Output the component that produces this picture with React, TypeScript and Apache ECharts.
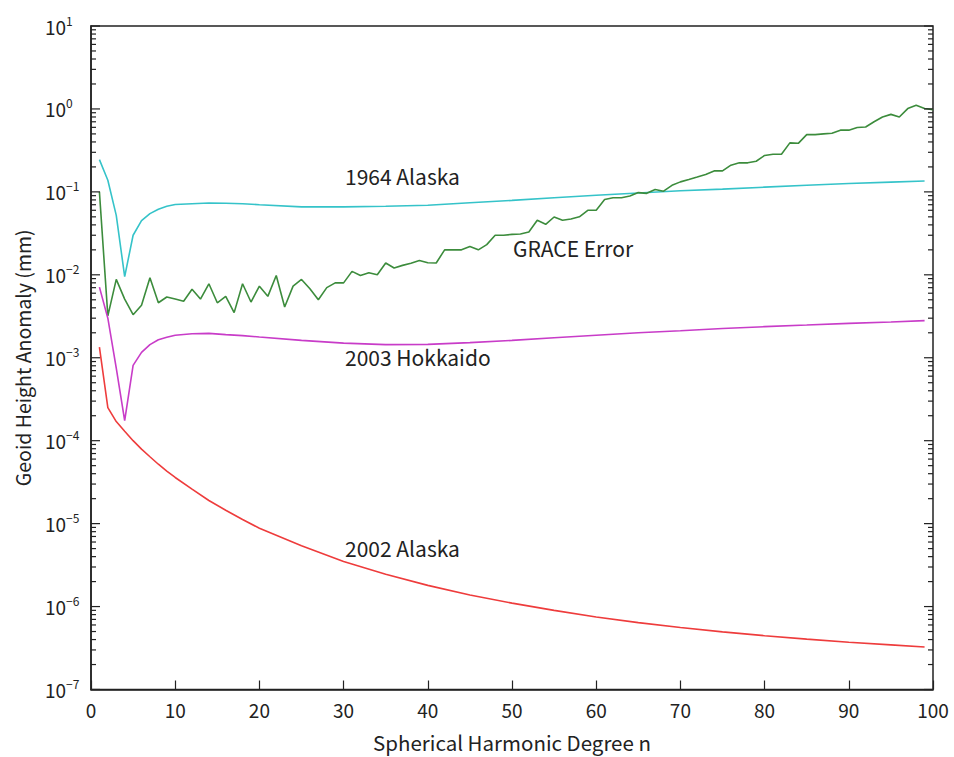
import React, { useEffect, useRef } from "react";
import * as echarts from "echarts";

// Spherical harmonic degree samples for the three model curves
const degrees = [1, 2, 3, 4, 5, 6, 7, 8, 9, 10, 12, 14, 16, 18, 20, 25, 30, 35, 40, 45, 50, 55, 60, 65, 70, 75, 80, 85, 90, 95, 99];

const alaska1964 = [0.245, 0.138, 0.052, 0.0095, 0.030, 0.045, 0.0547, 0.0617, 0.067, 0.0703, 0.072, 0.0735, 0.073, 0.072, 0.070, 0.066, 0.066, 0.067, 0.069, 0.074, 0.079, 0.085, 0.091, 0.097, 0.103, 0.108, 0.114, 0.12, 0.126, 0.131, 0.135];

const hokkaido2003 = [0.0071, 0.0030, 0.00075, 0.000175, 0.00081, 0.00116, 0.00144, 0.00165, 0.00177, 0.00187, 0.00195, 0.00197, 0.0019, 0.00185, 0.00178, 0.00162, 0.0015, 0.00144, 0.00145, 0.00152, 0.00162, 0.00174, 0.00187, 0.002, 0.00212, 0.00225, 0.00237, 0.00248, 0.0026, 0.0027, 0.0028];

const alaska2002 = [1.34e-3, 2.5e-4, 1.7e-4, 1.3e-4, 1.0e-4, 7.9e-5, 6.4e-5, 5.2e-5, 4.3e-5, 3.6e-5, 2.6e-5, 1.9e-5, 1.45e-5, 1.12e-5, 8.8e-6, 5.4e-6, 3.5e-6, 2.45e-6, 1.8e-6, 1.38e-6, 1.1e-6, 9.0e-7, 7.5e-7, 6.4e-7, 5.6e-7, 4.95e-7, 4.45e-7, 4.05e-7, 3.72e-7, 3.45e-7, 3.25e-7];

// GRACE error, degree n = 1 .. 100
const graceError = [
  0.10, 0.0032, 0.0088, 0.0051, 0.0033, 0.0043, 0.0092, 0.0046, 0.0054, 0.0051,
  0.0048, 0.0067, 0.0051, 0.0078, 0.0046, 0.0055, 0.0035, 0.0078, 0.0047, 0.0073,
  0.0055, 0.0098, 0.0041, 0.0073, 0.0088, 0.0068, 0.0050, 0.0070, 0.0080, 0.0080,
  0.011, 0.0098, 0.0106, 0.0100, 0.0139, 0.0121, 0.0130, 0.0138, 0.0149, 0.0140,
  0.0139, 0.020, 0.020, 0.020, 0.0219, 0.020, 0.0231, 0.030, 0.030, 0.0307,
  0.031, 0.0328, 0.0454, 0.0406, 0.0498, 0.0454, 0.047, 0.050, 0.060, 0.060,
  0.081, 0.085, 0.085, 0.089, 0.098, 0.096, 0.107, 0.102, 0.12, 0.132,
  0.141, 0.151, 0.162, 0.179, 0.179, 0.21, 0.224, 0.224, 0.234, 0.275,
  0.284, 0.284, 0.39, 0.385, 0.49, 0.49, 0.50, 0.51, 0.555, 0.555,
  0.598, 0.605, 0.70, 0.80, 0.86, 0.80, 1.01, 1.11, 1.01, 0.98,
];

const xTickLabels = ["0", "10", "20", "30", "40", "50", "60", "70", "80", "90", "100"];
const decadeExponents = [-7, -6, -5, -4, -3, -2, -1, 0, 1];

const FONT = '"Noto Sans CJK JP", "Noto Sans", sans-serif';
const INK = "#222";

export default function App() {
  const ref = useRef<HTMLDivElement>(null);

  useEffect(() => {
    if (!ref.current) return;
    const chart = echarts.init(ref.current, undefined, { renderer: "svg" });

    // log-axis tick marks (majors at decades, minors at 2..9 x decade)
    const tickData: number[][] = [];
    decadeExponents.forEach((e) => {
      tickData.push([0, Math.pow(10, e), 1]);
      if (e < 1) for (let m = 2; m <= 9; m++) tickData.push([0, m * Math.pow(10, e), 0]);
    });

    const pairs = (xs: number[], ys: number[]) => xs.map((x, i) => [x, ys[i]]);

    const option: any = {
      animation: false,
      backgroundColor: "#fff",
      grid: {
        left: 91,
        right: 21,
        top: 26,
        bottom: 67,
        show: true,
        borderColor: INK,
        borderWidth: 1.5,
        backgroundColor: "transparent",
      },
      xAxis: {
        type: "value",
        min: 0,
        max: 100,
        interval: 10,
        name: "Spherical Harmonic Degree n",
        nameLocation: "middle",
        nameGap: 42,
        nameTextStyle: { fontFamily: FONT, fontSize: 20.5, color: INK },
        axisLine: { show: true, lineStyle: { color: INK, width: 1.5 } },
        axisTick: { show: true, inside: true, length: 9, lineStyle: { color: INK, width: 1.2 } },
        axisLabel: {
          fontFamily: FONT,
          fontSize: 19,
          color: INK,
          margin: 10,
          formatter: (v: number) => xTickLabels[Math.round(v / 10)] ?? String(v),
        },
        splitLine: { show: false },
      },
      yAxis: {
        type: "log",
        logBase: 10,
        min: 1e-7,
        max: 10,
        name: "Geoid Height Anomaly (mm)",
        nameLocation: "middle",
        nameGap: 59,
        nameTextStyle: { fontFamily: FONT, fontSize: 19.5, color: INK },
        axisLine: { show: true, lineStyle: { color: INK, width: 1.5 } },
        axisTick: { show: false },
        minorTick: { show: false },
        splitLine: { show: false },
        axisLabel: {
          showMinLabel: true,
          showMaxLabel: true,
          align: "left",
          margin: 46,
          formatter: (v: number) => {
            const e = Math.round(Math.log10(v));
            const s = e < 0 ? "\u2212" + -e : String(e);
            return "{b|10}{s|" + s + "}";
          },
          rich: {
            b: { fontFamily: FONT, fontSize: 19, color: INK, lineHeight: 24 },
            s: { fontFamily: FONT, fontSize: 12, color: INK, lineHeight: 13, verticalAlign: "top" },
          },
        },
      },
      series: [
        {
          type: "line",
          name: "1964 Alaska",
          data: pairs(degrees, alaska1964),
          showSymbol: false,
          lineStyle: { color: "#35C3C9", width: 1.6 },
          itemStyle: { color: "#35C3C9" },
        },
        {
          type: "line",
          name: "GRACE Error",
          data: graceError.map((v, i) => [i + 1, v]),
          showSymbol: false,
          lineStyle: { color: "#3C8C3C", width: 1.6 },
          itemStyle: { color: "#3C8C3C" },
        },
        {
          type: "line",
          name: "2003 Hokkaido",
          data: pairs(degrees, hokkaido2003),
          showSymbol: false,
          lineStyle: { color: "#C83CC8", width: 1.6 },
          itemStyle: { color: "#C83CC8" },
        },
        {
          type: "line",
          name: "2002 Alaska",
          data: pairs(degrees, alaska2002),
          showSymbol: false,
          lineStyle: { color: "#EE3C3C", width: 1.6 },
          itemStyle: { color: "#EE3C3C" },
        },
        {
          type: "custom",
          silent: true,
          z: 5,
          data: tickData,
          renderItem: (_params: any, api: any) => {
            const v = api.value(1);
            const major = api.value(2) === 1;
            const l = api.coord([0, v]);
            const r = api.coord([100, v]);
            const len = major ? 9 : 5;
            const st = { stroke: INK, lineWidth: 1.2 };
            return {
              type: "group",
              children: [
                { type: "line", shape: { x1: l[0], y1: l[1], x2: l[0] + len, y2: l[1] }, style: st },
                { type: "line", shape: { x1: r[0] - len, y1: r[1], x2: r[0], y2: r[1] }, style: st },
              ],
            };
          },
        },
      ],
      graphic: [
        { type: "text", left: 345, top: 165, style: { text: "1964 Alaska", font: `21px ${FONT}`, fill: INK } },
        { type: "text", left: 513, top: 237, style: { text: "GRACE Error", font: `21px ${FONT}`, fill: INK } },
        { type: "text", left: 345, top: 346, style: { text: "2003 Hokkaido", font: `21px ${FONT}`, fill: INK } },
        { type: "text", left: 345, top: 537, style: { text: "2002 Alaska", font: `21px ${FONT}`, fill: INK } },
      ],
    };

    chart.setOption(option);
    return () => chart.dispose();
  }, []);

  return (
    <div
      ref={ref}
      style={{ position: "fixed", left: 0, top: 0, width: 954, height: 757, background: "#fff" }}
    />
  );
}
